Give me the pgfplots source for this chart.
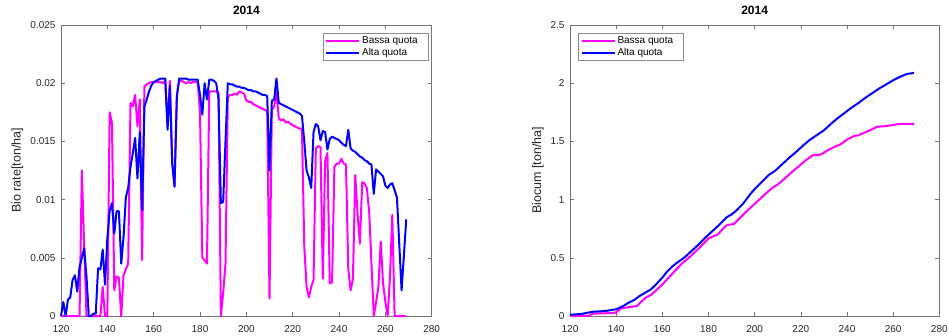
\documentclass[border=0pt]{standalone}
\usepackage{pgfplots}
\pgfplotsset{compat=1.18}
\usepackage{pgfplotstable}
\usepackage{fontspec}
\setmainfont{Liberation Sans}

\definecolor{bassa}{RGB}{255,0,255}
\definecolor{alta}{RGB}{0,0,255}

% daily biomass rate [ton/ha], low altitude site
\pgfplotstableread{
d r
120 0
121 0
122 0
123 0
124 0
125 0
126 0
127 0
128 0
129 0.0125
130 0.0060
131 0
132 0
133 0
134 0
135 0
136 0
137 0
138 0.0025
139 0
140 0
141 0.0175
142 0.0166
143 0.0022
144 0.0034
145 0.0033
146 0
147 0.0035
148 0.0040
149 0.0045
150 0.0183
151 0.0180
152 0.0190
153 0.0163
154 0.0186
155 0.0048
156 0.0197
157 0.0199
158 0.0200
159 0.0201
160 0.0201
161 0.0201
162 0.0201
163 0.0201
164 0.0200
165 0.0202
166 0.0165
167 0.0202
168 0.0132
169 0.0112
170 0.0190
171 0.0202
172 0.0202
173 0.0201
174 0.0200
175 0.0201
176 0.0200
177 0.0201
178 0.0201
179 0.0201
180 0.0175
181 0.0050
182 0.0048
183 0.0045
184 0.0193
185 0.0193
186 0.0193
187 0.0193
188 0.0192
189 0
190 0.0020
191 0.0045
192 0.0188
193 0.0190
194 0.0190
195 0.0191
196 0.0190
197 0.0193
198 0.0192
199 0.0191
200 0.0185
201 0.0184
202 0.0184
203 0.0182
204 0.0181
205 0.0180
206 0.0179
207 0.0178
208 0.0177
209 0.0176
210 0.0015
211 0.0177
212 0.0180
213 0.0192
214 0.0170
215 0.0168
216 0.0169
217 0.0166
218 0.0167
219 0.0165
220 0.0164
221 0.0163
222 0.0162
223 0.0161
224 0.0161
225 0.0060
226 0.0025
227 0.0016
228 0.0025
229 0.0031
230 0.0144
231 0.0146
232 0.0145
233 0.0032
234 0.0133
235 0.0140
236 0.0028
237 0.0029
238 0.0128
239 0.0131
240 0.0131
241 0.0135
242 0.0131
243 0.0130
244 0.0040
245 0.0022
246 0.0032
247 0.0121
248 0.0088
249 0.0062
250 0.0115
251 0.0114
252 0.0110
253 0.0090
254 0.0045
255 0
256 0.0012
257 0.0025
258 0.0064
259 0.0028
260 0.0012
261 0
262 0.0034
263 0.0087
264 0
265 0
266 0
267 0
268 0
269 0
}\ratebassa

% daily biomass rate [ton/ha], high altitude site
\pgfplotstableread{
d r
120 0
121 0.0012
122 0
123 0.0014
124 0.0016
125 0.0031
126 0.0035
127 0.0021
128 0.0042
129 0.0050
130 0.0058
131 0.0034
132 0
133 0
134 0.0002
135 0.0002
136 0.0041
137 0.0040
138 0.0057
139 0.0027
140 0.0067
141 0.0090
142 0.0097
143 0.0071
144 0.0090
145 0.0090
146 0.0045
147 0.0068
148 0.0102
149 0.0110
150 0.0128
151 0.0140
152 0.0153
153 0.0118
154 0.0158
155 0.0091
156 0.0180
157 0.0186
158 0.0193
159 0.0198
160 0.0201
161 0.0202
162 0.0203
163 0.0204
164 0.0204
165 0.0204
166 0.0160
167 0.0198
168 0.0131
169 0.0111
170 0.0188
171 0.0204
172 0.0204
173 0.0204
174 0.0204
175 0.0203
176 0.0203
177 0.0203
178 0.0203
179 0.0203
180 0.0190
181 0.0173
182 0.0200
183 0.0186
184 0.0203
185 0.0203
186 0.0202
187 0.0200
188 0.0186
189 0.0097
190 0.0098
191 0.0150
192 0.0200
193 0.0199
194 0.0199
195 0.0198
196 0.0197
197 0.0197
198 0.0196
199 0.0196
200 0.0195
201 0.0194
202 0.0194
203 0.0193
204 0.0193
205 0.0192
206 0.0191
207 0.0190
208 0.0190
209 0.0189
210 0.0125
211 0.0185
212 0.0186
213 0.0204
214 0.0183
215 0.0182
216 0.0181
217 0.0180
218 0.0179
219 0.0178
220 0.0177
221 0.0176
222 0.0175
223 0.0174
224 0.0172
225 0.0150
226 0.0125
227 0.0119
228 0.0110
229 0.0158
230 0.0165
231 0.0163
232 0.0151
233 0.0159
234 0.0158
235 0.0143
236 0.0152
237 0.0154
238 0.0153
239 0.0152
240 0.0151
241 0.0149
242 0.0147
243 0.0146
244 0.0160
245 0.0144
246 0.0142
247 0.0141
248 0.0139
249 0.0137
250 0.0136
251 0.0134
252 0.0133
253 0.0131
254 0.0130
255 0.0105
256 0.0126
257 0.0124
258 0.0122
259 0.0120
260 0.0112
261 0.0110
262 0.0113
263 0.0114
264 0.0108
265 0.0102
266 0.0062
267 0.0022
268 0.0052
269 0.0083
}\ratealta

% cumulative biomass [ton/ha], low altitude site
\pgfplotstableread{
d c
120 0.000
128 0.002
130 0.020
138 0.025
140 0.030
142 0.065
145 0.075
149 0.085
151 0.125
153 0.160
155 0.180
157 0.215
160 0.270
163 0.335
166 0.400
169 0.460
172 0.510
175 0.565
178 0.625
180 0.665
182 0.685
184 0.700
187 0.765
188 0.782
191 0.790
193 0.830
196 0.890
199 0.945
202 1.000
205 1.055
208 1.105
210 1.130
213 1.180
216 1.235
219 1.285
222 1.335
225 1.380
228 1.385
229 1.390
232 1.428
235 1.458
237 1.472
240 1.515
243 1.546
245 1.553
247 1.570
250 1.595
253 1.626
256 1.630
258 1.635
260 1.641
262 1.648
264 1.650
269 1.650
}\cumbassa

% cumulative biomass [ton/ha], high altitude site
\pgfplotstableread{
d c
120 0.010
125 0.018
130 0.037
135 0.042
140 0.058
143 0.085
145 0.110
148 0.140
150 0.170
153 0.205
155 0.228
157 0.265
160 0.330
162 0.380
164 0.420
166 0.452
168 0.480
170 0.510
173 0.565
176 0.620
179 0.680
182 0.735
185 0.790
188 0.850
190 0.872
192 0.905
195 0.965
198 1.045
200 1.090
203 1.150
206 1.210
209 1.250
212 1.305
215 1.360
218 1.410
221 1.465
224 1.515
227 1.555
230 1.595
233 1.650
236 1.700
239 1.745
242 1.790
245 1.830
248 1.875
251 1.915
254 1.955
257 1.990
260 2.025
263 2.055
266 2.080
268 2.085
269 2.090
}\cumalta

\pgfplotsset{
  legend image code/.code={\draw[#1] (0pt,0pt) -- (33pt,0pt);},
  panel/.style={
    scale only axis, height=291pt,
    xmin=120, xmax=280, xtick={120,140,...,280},
    tick align=inside, tick pos=both, major tick length=4pt,
    axis line style={black!55, line width=0.6pt},
    tick style={black!55, line width=0.6pt},
    ticklabel style={font=\fontsize{10}{12}\selectfont, text=black!85},
    /pgf/number format/assume math mode=true,
    xticklabel style={anchor=base, yshift=-16pt},
    yticklabel style={xshift=-2pt},
    title style={at={(axis description cs:0.5,1)}, anchor=base, yshift=5pt,
      inner sep=0pt, font=\fontsize{12}{14}\selectfont\bfseries},
    legend style={draw=black!45, fill=white, font=\fontsize{10}{12}\selectfont,
      inner xsep=2pt, inner ysep=1.5pt, row sep=-1pt, cells={anchor=west}},
    clip=false,
  },
  ylabelat/.style={every axis y label/.style={at={(axis description cs:#1,0.5)},
      rotate=90, anchor=center, font=\fontsize{12.5}{15}\selectfont, text=black!85}},
  series/.style={line width=2pt, line join=round},
}

\begin{document}
\begin{tikzpicture}
\useasboundingbox (0,0) rectangle (948pt,335pt);

\begin{axis}[panel,
  at={(61pt,19pt)}, anchor=south west, width=370.7pt,
  ymin=0, ymax=0.025,
  ytick={0,0.005,0.01,0.015,0.02,0.025},
  yticklabels={0,0.005,0.01,0.015,0.02,0.025},
  scaled y ticks=false,
  title={2014},
  ylabel={Bio rate[ton/ha]},
  ylabelat=-0.1173,
  legend style={at={(axis description cs:0.9908,0.9715)}, anchor=north east},
]
\addplot[series, bassa] table[x=d, y=r] {\ratebassa};
\addplot[series, alta] table[x=d, y=r] {\ratealta};
\legend{\makebox[62pt][l]{Bassa quota}, \makebox[62pt][l]{Alta quota}}
\end{axis}

\begin{axis}[panel,
  at={(570pt,19pt)}, anchor=south west, width=369.3pt,
  ymin=0, ymax=2.5,
  ytick={0,0.5,...,2.5},
  title={2014},
  ylabel={Biocum [ton/ha]},
  ylabelat=-0.0867,
  legend style={at={(axis description cs:0.0225,0.9715)}, anchor=north west},
]
\addplot[series, bassa] table[x=d, y=c] {\cumbassa};
\addplot[series, alta] table[x=d, y=c] {\cumalta};
\legend{\makebox[62pt][l]{Bassa quota}, \makebox[62pt][l]{Alta quota}}
\end{axis}
\end{tikzpicture}
\end{document}
